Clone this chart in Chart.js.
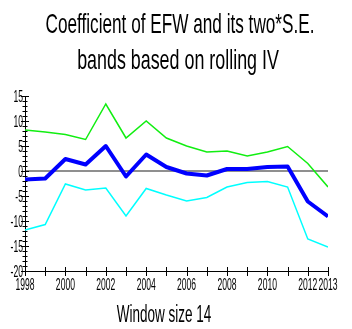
<!DOCTYPE html>
<html>
<head>
<meta charset="utf-8">
<script src="https://cdn.jsdelivr.net/npm/chart.js@4.4.1/dist/chart.umd.min.js"></script>
<style>
  html, body { margin: 0; padding: 0; background: #ffffff; }
  #wrap { width: 352px; height: 329px; position: relative; }
</style>
</head>
<body>
<div id="wrap"><canvas id="c"></canvas></div>
<script>
// Rolling-window IV estimates: coefficient of EFW and its +/- 2*S.E. bands
const years = [1998, 1999, 2000, 2001, 2002, 2003, 2004, 2005, 2006, 2007, 2008, 2009, 2010, 2011, 2012, 2013];
const coef = [-1.7, -1.5, 2.4, 1.3, 5.0, -1.1, 3.3, 0.8, -0.5, -0.9, 0.4, 0.4, 0.8, 0.9, -6.1, -9.1];
const upperBand = [8.2, 7.8, 7.3, 6.3, 13.4, 6.6, 10.0, 6.6, 5.0, 3.8, 4.0, 3.0, 3.8, 4.9, 1.5, -3.2];
const lowerBand = [-11.8, -10.7, -2.6, -3.8, -3.4, -9.0, -3.5, -4.8, -6.0, -5.3, -3.2, -2.3, -2.1, -3.2, -13.6, -15.2];

const xTickLabels = [1998, 2000, 2002, 2004, 2006, 2008, 2010, 2012, 2013];
const yTickLabels = [15, 10, 5, 0, -5, -10, -15, -20];
const titleLines = ['Coefficient of EFW and its two*S.E.', 'bands based on rolling IV'];
const xTitle = 'Window size 14';

const FONT = "'Liberation Sans', Arial, Helvetica, sans-serif";

function toPoints(vals) {
  return vals.map((v, i) => ({ x: years[i], y: v }));
}

// Condensed text: regular font squeezed horizontally
function narrowText(ctx, text, x, y, size, sx, align) {
  ctx.save();
  ctx.font = size + 'px ' + FONT;
  ctx.textAlign = align;
  ctx.textBaseline = 'alphabetic';
  ctx.fillStyle = '#000000';
  ctx.translate(x, y);
  ctx.scale(sx, 1);
  ctx.fillText(text, 0, 0);
  ctx.restore();
}

const axisDecor = {
  id: 'axisDecor',
  afterDraw(chart) {
    const ctx = chart.ctx;
    const xs = chart.scales.x;
    const ys = chart.scales.y;
    const x0 = xs.left;
    const y0 = ys.bottom;

    ctx.save();
    ctx.strokeStyle = '#000000';
    ctx.lineWidth = 1;
    ctx.beginPath();
    // y ticks: every unit, longer at multiples of 5
    for (let v = ys.min; v <= ys.max; v++) {
      const py = Math.round(ys.getPixelForValue(v)) + 0.5;
      const len = (v % 5 === 0) ? 4 : 2.5;
      ctx.moveTo(x0 - len, py);
      ctx.lineTo(x0 + len, py);
    }
    // x ticks: every year
    for (let yr = xs.min; yr <= xs.max; yr++) {
      const px = Math.round(xs.getPixelForValue(yr)) + 0.5;
      ctx.moveTo(px, y0 - 4);
      ctx.lineTo(px, y0 + 5);
    }
    ctx.stroke();
    ctx.restore();

    yTickLabels.forEach(v => {
      narrowText(ctx, String(v), x0 - 2, ys.getPixelForValue(v) + 6, 16.5, 0.52, 'right');
    });
    xTickLabels.forEach(yr => {
      narrowText(ctx, String(yr), xs.getPixelForValue(yr), y0 + 18.5, 16.5, 0.52, 'center');
    });

    narrowText(ctx, titleLines[0], 180, 33, 27.5, 0.625, 'center');
    narrowText(ctx, titleLines[1], 178, 69, 27.5, 0.65, 'center');
    narrowText(ctx, xTitle, 164, 322, 23.5, 0.575, 'center');
  }
};

new Chart(document.getElementById('c'), {
  type: 'line',
  data: {
    datasets: [
      { label: 'coef', data: toPoints(coef), borderColor: '#0000ff', borderWidth: 4, borderJoinStyle: 'round' },
      { label: 'upper', data: toPoints(upperBand), borderColor: '#11ee11', borderWidth: 1.5 },
      { label: 'lower', data: toPoints(lowerBand), borderColor: '#00ffff', borderWidth: 1.5 }
    ]
  },
  options: {
    responsive: true,
    maintainAspectRatio: false,
    animation: false,
    devicePixelRatio: 1,
    layout: { padding: { top: 96, right: 24, left: 0, bottom: 0 } },
    elements: { point: { radius: 0 }, line: { tension: 0, fill: false } },
    plugins: { legend: { display: false }, title: { display: false }, tooltip: { enabled: false } },
    scales: {
      x: {
        type: 'linear', min: 1998, max: 2013,
        ticks: { display: false, stepSize: 1 },
        grid: { display: false },
        border: { display: true, color: '#000000', width: 1 },
        afterFit(s) { s.height = 58; }
      },
      y: {
        type: 'linear', min: -20, max: 15,
        ticks: { display: false, stepSize: 5 },
        grid: {
          display: true, drawTicks: false,
          color: c => (c.tick && c.tick.value === 0) ? '#8f8f8f' : 'rgba(0,0,0,0)',
          lineWidth: c => (c.tick && c.tick.value === 0) ? 2 : 0
        },
        border: { display: true, color: '#000000', width: 1 },
        afterFit(s) { s.width = 25; }
      }
    }
  },
  plugins: [axisDecor]
});
</script>
</body>
</html>
